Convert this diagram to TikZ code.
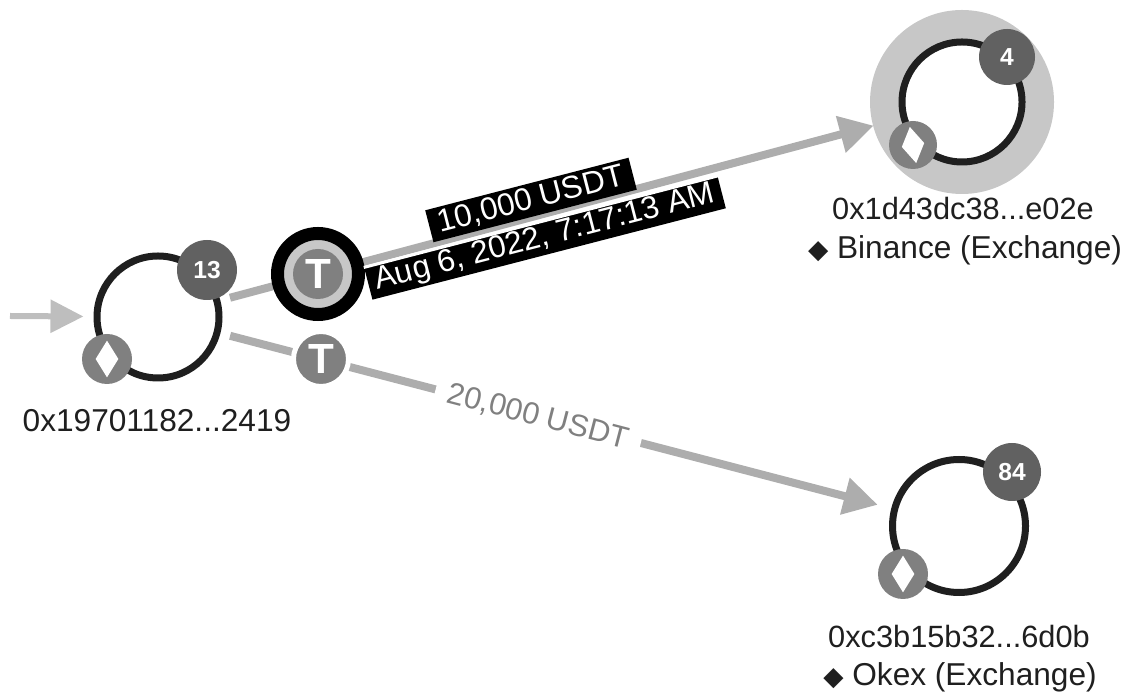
\documentclass[tikz,border=0pt]{standalone}
\usepackage{fontspec}
\setmainfont{Liberation Sans}
\newfontfamily\markfont{DejaVu Sans}
\usepackage{xcolor}
\definecolor{edgegrey}{gray}{0.68}
\definecolor{halogrey}{gray}{0.78}
\definecolor{badgegrey}{gray}{0.38}
\definecolor{tokengrey}{gray}{0.5}
\definecolor{ringgrey}{gray}{0.78}
\definecolor{inkgrey}{gray}{0.12}
\usetikzlibrary{arrows.meta,shapes.geometric}

\begin{document}
\begin{tikzpicture}[
    every node/.style={font=\fontsize{18}{22}\selectfont, text=inkgrey},
    account/.style={draw=inkgrey, fill=white, circle, line width=0.14cm, minimum size=2.44cm, inner sep=0pt},
    countbadge/.style={circle, fill=badgegrey, minimum size=1.16cm, inner sep=0pt, text=white, font=\fontsize{14}{16}\selectfont\bfseries},
    ethbadge/.style={circle, fill=tokengrey, minimum size=1cm, inner sep=0pt},
    ethmark/.style={diamond, fill=white, aspect=0.62, minimum width=0.46cm, minimum height=0.74cm, inner sep=0pt},
    tokenbadge/.style={circle, fill=tokengrey, minimum size=1cm, inner sep=0pt, text=white, font=\fontsize{24}{26}\selectfont\bfseries},
    transfer/.style={-{Triangle[length=0.68cm, width=0.72cm]}, draw=edgegrey, line width=0.16cm},
    blacklabel/.style={fill=black, text=white, rotate=14.5, inner sep=0pt, minimum height=0.66cm, font=\fontsize{18}{20}\selectfont}
]
\useasboundingbox (0,0) rectangle (22.5,13.92);

% Halo behind the selected account
\node (halo) [circle, fill=halogrey, minimum size=3.68cm, inner sep=0pt] at (19.24,11.88) {};

% Accounts
\node (source) [account] at (3.16,7.58) {};
\node (binance) [account, minimum size=2.4cm] at (19.24,11.88) {};
\node (okex) [account, minimum size=2.66cm] at (19.18,3.40) {};
\coordinate (incoming) at (0.2,7.6);

% Transfers
\draw [transfer, line width=0.12cm, draw=edgegrey!80, -{Triangle[length=0.66cm, width=0.64cm]}, shorten >=0.2cm] (incoming) -- (source);
\draw [transfer, shorten <=0.2cm, shorten >=0.56cm] (source) -- (binance);
\draw [transfer, shorten <=0.2cm, shorten >=0.28cm] (source) -- (okex);

% Badges
\node (count13) [countbadge, minimum size=1.2cm] at (4.14,8.52) {13};
\node (eth13) [ethbadge] at (2.14,6.74) {};
\node (mark13) [ethmark] at (eth13) {};
\node (count4) [countbadge, minimum size=1.12cm] at (20.14,12.78) {4};
\node (eth4) [ethbadge, minimum size=0.96cm] at (18.26,11.02) {};
\node (mark4) [ethmark, rotate=10] at (eth4) {};
\node (count84) [countbadge] at (20.24,4.48) {84};
\node (eth84) [ethbadge] at (18.06,2.44) {};
\node (mark84) [ethmark] at (eth84) {};

% Tokens on the transfers
\node (ring) [circle, draw=black, fill=ringgrey, line width=0.26cm, minimum size=1.62cm, inner sep=0pt] at (6.36,8.44) {};
\node (token1) [tokenbadge] at (ring) {T};
\node (token2) [tokenbadge, draw=white, line width=0.1cm, minimum size=1.1cm] at (6.42,6.74) {T};

% Transfer labels
\node (datelabel) [blacklabel, minimum width=7.3cm] at (10.9,9.16) {Aug 6, 2022, 7:17:13 AM};
\draw [white, line width=0.06cm] (datelabel.north west) -- (datelabel.north east);
\node (amountlabel) [blacklabel, minimum width=4.2cm] at (10.62,9.92) {10,000 USDT};
\node (amount2) [fill=white, rotate=-14.6, inner sep=0pt, minimum width=4.24cm, minimum height=0.7cm, text=gray, font=\fontsize{17.5}{20}\selectfont] at (10.76,5.58) {20,000 USDT};

% Addresses
\node (addr1) at (3.14,5.50) {0x19701182...2419};
\node (addr2) [font=\fontsize{17.5}{21}\selectfont] at (19.26,9.74) {0x1d43dc38...e02e};
\node (name2) at (19.30,8.92) {{\markfont\fontsize{15}{18}\selectfont ◆} Binance (Exchange)};
\node (addr3) [font=\fontsize{17.5}{21}\selectfont] at (19.18,1.18) {0xc3b15b32...6d0b};
\node (name3) at (19.20,0.38) {{\markfont\fontsize{15}{18}\selectfont ◆} Okex (Exchange)};
\end{tikzpicture}
\end{document}
